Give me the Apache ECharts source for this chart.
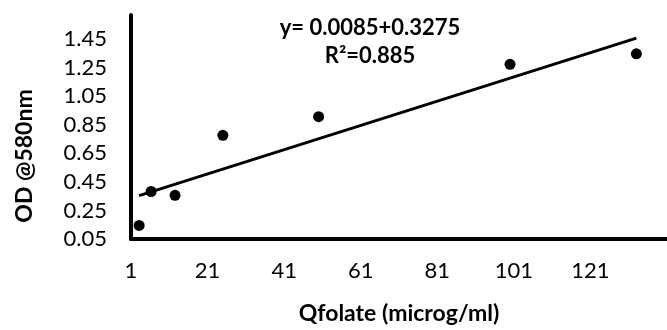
<!DOCTYPE html>
<html>
<head>
<meta charset="utf-8">
<script src="https://cdn.jsdelivr.net/npm/echarts@6/dist/echarts.min.js"></script>
<style>
  html, body { margin: 0; padding: 0; background: #fff; }
  #chart { width: 667px; height: 330px; }
</style>
</head>
<body>
<div id="chart"></div>
<script>
// measured points
var concX = [3.125, 6.25, 12.5, 25, 50, 100, 133];
var odY = [0.145, 0.383, 0.356, 0.777, 0.907, 1.274, 1.348];

// linear trendline y = slope*x + intercept
var slope = 0.0085;
var intercept = 0.3275;
var trendX = [3.125, 133];

var eqText = 'y= 0.0085+0.3275';
var r2Text = 'R²=0.885';
var yTitle = 'OD @580nm';

var points = concX.map(function (x, i) { return [x, odY[i]]; });
var trend = trendX.map(function (x) { return [x, slope * x + intercept]; });

var myChart = echarts.init(document.getElementById('chart'));
var font = 'Lato, "Open Sans", sans-serif';
var option = {
    animation: false,
    grid: {
        left: 131,
        right: -9,
        top: 15,
        bottom: 85
    },
    xAxis: {
        type: 'value',
        min: 1,
        max: 141,
        interval: 20,
        name: 'Qfolate (microg/ml)',
        nameLocation: 'middle',
        nameGap: 63,
        nameTextStyle: { fontFamily: font, fontSize: 23, fontWeight: 'bold', color: '#000' },
        axisLine: { show: true, lineStyle: { color: '#000', width: 4 } },
        axisTick: { show: false },
        splitLine: { show: false },
        axisLabel: {
            margin: 21,
            fontFamily: font, fontSize: 22, color: '#000',
            showMaxLabel: false
        }
    },
    yAxis: {
        type: 'value',
        min: 0.05,
        max: 1.62,
        interval: 0.2,
        axisLine: { show: true, lineStyle: { color: '#000', width: 4 } },
        axisTick: { show: false },
        splitLine: { show: false },
        axisLabel: {
            margin: 24,
            fontFamily: font, fontSize: 22, color: '#000',
            showMaxLabel: false,
            formatter: function (v) { return v.toFixed(2); }
        }
    },
    series: [
        {
            type: 'scatter',
            data: points,
            symbol: 'circle',
            symbolSize: 11,
            itemStyle: { color: '#000', opacity: 1 },
            z: 3
        },
        {
            type: 'line',
            data: trend,
            symbol: 'none',
            lineStyle: { color: '#000', width: 3 },
            z: 2
        }
    ],
    graphic: [
        {
            type: 'text',
            x: 370, y: 28,
            style: { text: eqText, fontFamily: font, fontSize: 22, fontWeight: 'bold', fill: '#000', align: 'center', verticalAlign: 'middle' }
        },
        {
            type: 'text',
            x: 370, y: 56,
            style: { text: r2Text, fontFamily: font, fontSize: 22, fontWeight: 'bold', fill: '#000', align: 'center', verticalAlign: 'middle' }
        },
        {
            type: 'text',
            x: 25, y: 156,
            rotation: Math.PI / 2,
            style: { text: yTitle, fontFamily: font, fontSize: 23, fontWeight: 'bold', fill: '#000', align: 'center', verticalAlign: 'middle' }
        }
    ]
};
myChart.setOption(option);
</script>
</body>
</html>
